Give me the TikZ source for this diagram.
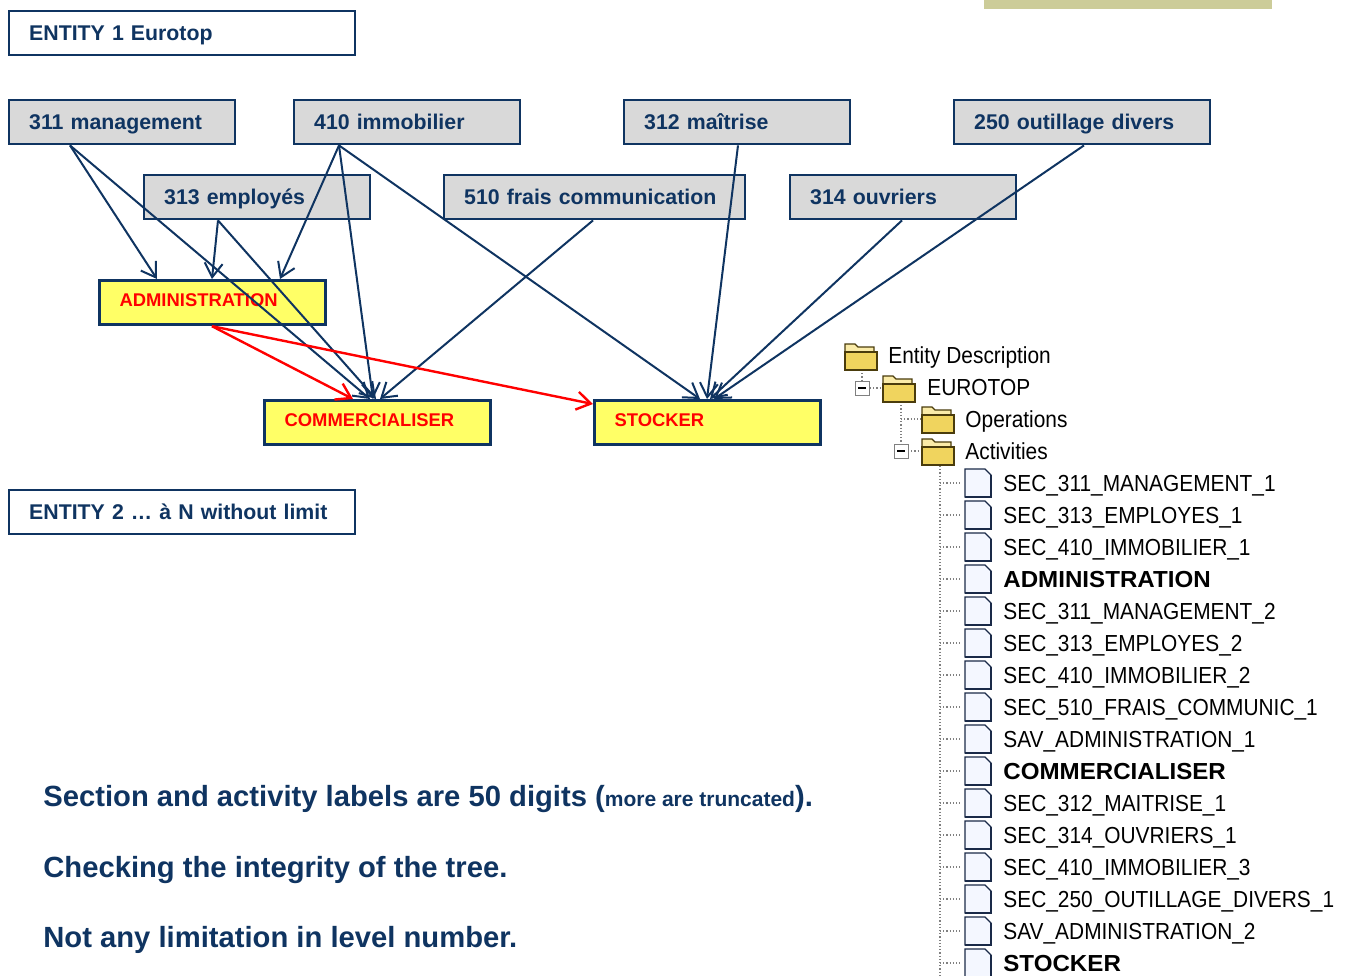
\documentclass[tikz,border=0pt]{standalone}
\usepackage{fontspec}
\setmainfont{Liberation Sans}
\newfontfamily\treefont[FakeStretch=0.9]{Liberation Sans}
\newfontfamily\treebold[FakeStretch=1.04]{Liberation Sans}
\usetikzlibrary{arrows.meta,calc}

\definecolor{navy}{HTML}{0F3461}
\definecolor{boxgray}{HTML}{D9D9D9}
\definecolor{hiyellow}{HTML}{FFFF66}
\definecolor{khaki}{HTML}{CCCC99}
\definecolor{folderyellow}{HTML}{F0D45E}
\definecolor{foldertab}{HTML}{FAEBA8}
\definecolor{folderedge}{HTML}{4A3C0C}
\definecolor{docedge}{HTML}{1A2A48}
\definecolor{docfill}{HTML}{F4F7FF}

\newcommand\secfont{\fontsize{10.65}{12}\selectfont\bfseries}
\newcommand\actlabelfont{\fontsize{9.2}{11}\selectfont\bfseries}
\newcommand\notefont{\fontsize{14.6}{17}\selectfont\bfseries}
\newcommand\smallnote{\fontsize{10.5}{12}\selectfont}
\newcommand\rowfont{\fontsize{11.6}{13}\selectfont}

\tikzset{
  sect/.style={draw=navy, line width=1.2pt, fill=boxgray, anchor=north west,
    minimum height=22pt, text width=93pt, inner xsep=10pt, align=left,
    text height=7.6pt, text depth=0pt, font=\secfont, text=navy},
  entity/.style={sect, fill=white, text width=153pt},
  act/.style={sect, fill=hiyellow, line width=1.6pt, text=red,
    font=\actlabelfont, text height=6.6pt, text depth=3pt},
  link/.style={navy, line width=1pt, -{Straight Barb[length=7pt,width=9pt]}},
  redlink/.style={link, red, line width=1.2pt},
  note/.style={anchor=base west, inner sep=0pt, font=\notefont, text=navy},
  treetext/.style={anchor=west, inner sep=0pt, text height=8.3pt, text depth=0pt},
  treeline/.style={gray, densely dotted, line width=0.6pt},
  folder/.pic={
    \filldraw[draw=folderedge, fill=foldertab, line width=0.6pt]
      (-16,-5) -- (-16,-13) -- (-6,-13) -- (-3,-10) -- (13,-10) -- (13,-5) -- cycle;
    \filldraw[draw=folderedge, fill=folderyellow, line width=0.6pt] (-16,-5) rectangle (16,13);
    \draw[folderedge, line width=1.4pt] (-16,13) -- (16,13);
  },
  docicon/.pic={
    \filldraw[draw=docedge, fill=docfill, line width=0.6pt]
      (-13,-14) -- (7,-14) -- (13,-8) -- (13,14) -- (-13,14) -- cycle;
    \draw[docedge, line width=1.4pt] (13,-8) -- (13,14) -- (-13,14);
  },
  minusbox/.pic={
    \filldraw[draw=gray, fill=white, line width=0.5pt] (-7,-7) rectangle (7,7);
    \draw[black, line width=0.6pt] (-4,0) -- (4,0);
  }
}

\begin{document}
\begin{tikzpicture}[x=0.5pt, y=-0.5pt]
\useasboundingbox (0,0) rectangle (1357,976);
\fill[khaki] (984,0) rectangle (1272,9);

% entities
\node[entity] (ent1) at (8,10) {ENTITY 1 Eurotop};
\node[entity] (ent2) at (8,489) {ENTITY 2 \dots\ à N without limit};

% sections
\node[sect] (m311) at (8,99) {311 management};
\node[sect] (m410) at (293,99) {410 immobilier};
\node[sect] (m312) at (623,99) {312 maîtrise};
\node[sect, text width=108pt] (m250) at (953,99) {250 outillage divers};
\node[sect] (m313) at (143,174) {313 employés};
\node[sect, text width=130.5pt] (m510) at (443,174) {510 frais communication};
\node[sect] (m314) at (789,174) {314 ouvriers};

% activities
\node[act] (adm) at (98,279) {ADMINISTRATION};
\node[act] (com) at (263,399) {COMMERCIALISER};
\node[act] (sto) at (593,399) {STOCKER};

% sections -> activities
\draw[link] ($(m311.south west)+(62,0)$) -- ($(adm.north west)+(59,0)$);
\draw[link] ($(m311.south west)+(62,0)$) -- ($(com.north west)+(107,0)$);
\draw[link] ($(m410.south west)+(46,0)$) -- ($(adm.north west)+(182,0)$);
\draw[link] ($(m410.south west)+(46,0)$) -- ($(com.north west)+(110,0)$);
\draw[link] ($(m410.south west)+(46,0)$) -- ($(sto.north west)+(107,0)$);
\draw[link] ($(m313.south west)+(75,0)$) -- ($(adm.north west)+(114,0)$);
\draw[link] ($(m313.south west)+(75,0)$) -- ($(com.north west)+(113,0)$);
\draw[link] ($(m510.south west)+(150,0)$) -- ($(com.north west)+(117,0)$);
\draw[link] ($(m312.south west)+(115,0)$) -- ($(sto.north west)+(114,0)$);
\draw[link] ($(m314.south west)+(113,0)$) -- ($(sto.north west)+(117,0)$);
\draw[link] ($(m250.south west)+(131,0)$) -- ($(sto.north west)+(121,0)$);

% activity -> activities
\draw[redlink] ($(adm.south west)+(114,0)$) -- ($(com.north west)+(90,0)$);
\draw[redlink] ($(adm.south west)+(114,0)$) -- ($(sto.north west)+(0,5)$);

% tree
\draw[treeline] (862,370) -- (862,381);
\draw[treeline] (870,388) -- (884,388);
\draw[treeline] (901,402) -- (901,445);
\draw[treeline] (901,419) -- (922,419);
\draw[treeline] (908,451) -- (922,451);
\draw[treeline] (940,466) -- (940,976);
\pic at (861,357) {folder};
\node[treetext, font=\treefont\rowfont] (root) at (888,355) {Entity Description};
\pic at (862,388) {minusbox};
\pic at (899,389) {folder};
\node[treetext, font=\treefont\rowfont] (eurotop) at (927,387) {EUROTOP};
\pic at (938,420) {folder};
\node[treetext, font=\treefont\rowfont] (ops) at (965,419) {Operations};
\pic at (901,451) {minusbox};
\pic at (938,452) {folder};
\node[treetext, font=\treefont\rowfont] (acts) at (965,451) {Activities};
\foreach \fnt/\lab [count=\i from 4] in {%
  \treefont/SEC\_311\_MANAGEMENT\_1, \treefont/SEC\_313\_EMPLOYES\_1,
  \treefont/SEC\_410\_IMMOBILIER\_1, \treebold\bfseries/ADMINISTRATION,
  \treefont/SEC\_311\_MANAGEMENT\_2, \treefont/SEC\_313\_EMPLOYES\_2,
  \treefont/SEC\_410\_IMMOBILIER\_2, \treefont/SEC\_510\_FRAIS\_COMMUNIC\_1,
  \treefont/SAV\_ADMINISTRATION\_1, \treebold\bfseries/COMMERCIALISER,
  \treefont/SEC\_312\_MAITRISE\_1, \treefont/SEC\_314\_OUVRIERS\_1,
  \treefont/SEC\_410\_IMMOBILIER\_3, \treefont/SEC\_250\_OUTILLAGE\_DIVERS\_1,
  \treefont/SAV\_ADMINISTRATION\_2, \treebold\bfseries/STOCKER} {
  \draw[treeline] (940,355+32*\i) -- (961,355+32*\i);
  \pic at (978,355+32*\i) {docicon};
  \node[treetext] (act\i) at (1003,355+32*\i) {\fnt\rowfont\lab};
}

% notes
\node[note] (note1) at (43,806) {Section and activity labels are 50 digits ({\smallnote more are truncated}).};
\node[note] (note2) at (43,877) {Checking the integrity of the tree.};
\node[note] (note3) at (43,947) {Not any limitation in level number.};
\end{tikzpicture}
\end{document}
